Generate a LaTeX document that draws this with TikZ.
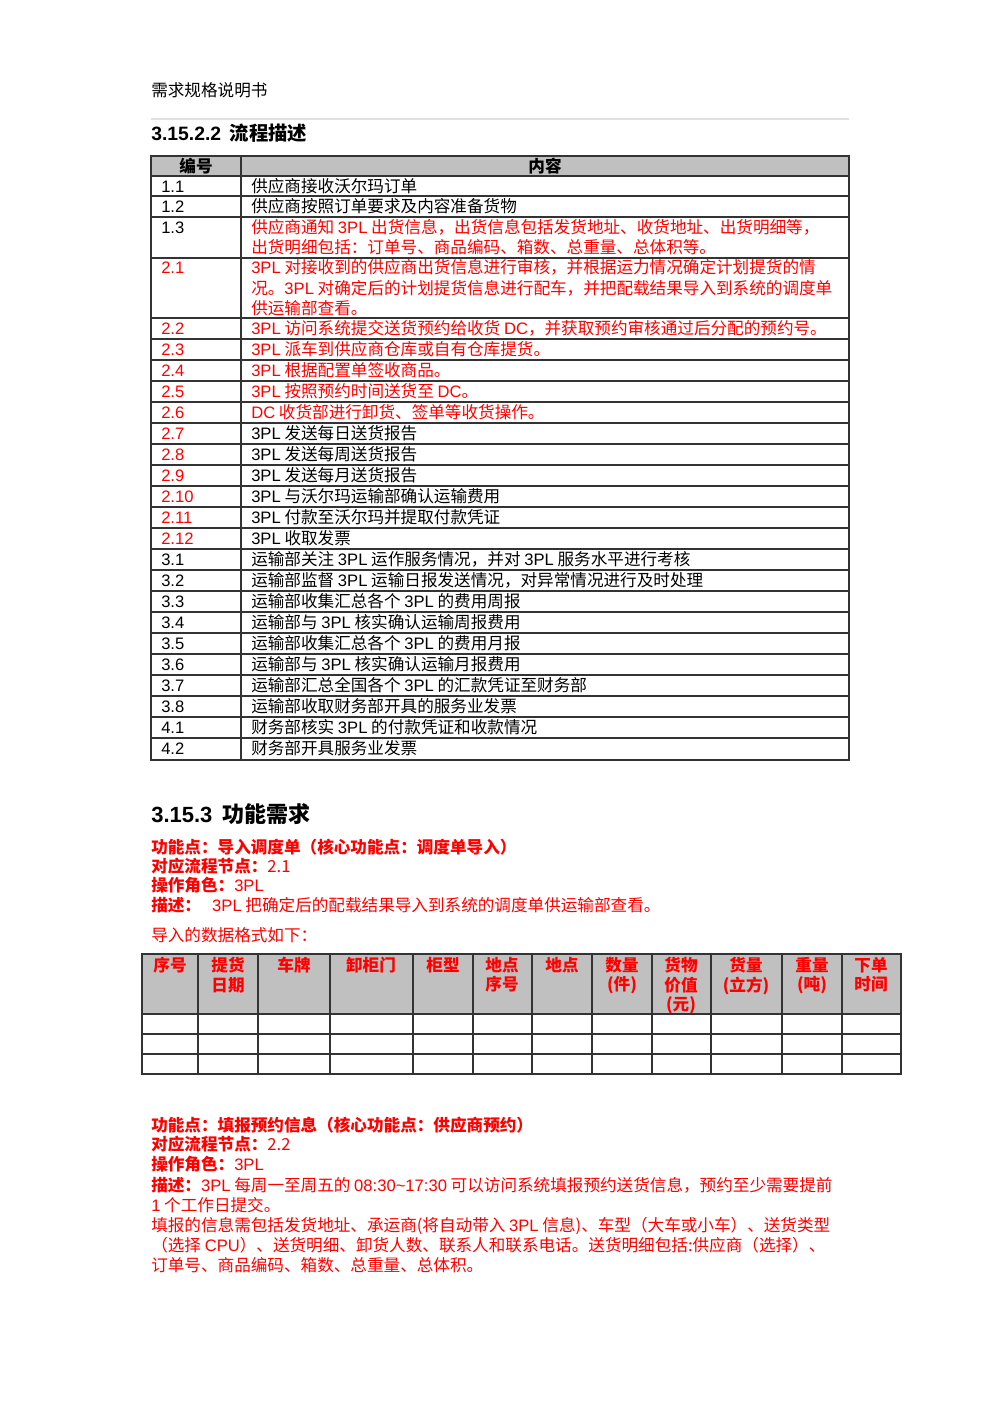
\documentclass[tikz,border=0pt]{standalone}
\usepackage{fontspec}
\setmainfont{Noto Sans CJK SC}
\newfontfamily\lat{Liberation Sans}
\newcommand{\tpl}{{\lat 3PL}}
\definecolor{hdr}{RGB}{192,192,192}
\definecolor{rd}{RGB}{255,0,0}
\tikzset{txt/.style={anchor=base west,inner sep=0pt,font=\fontsize{12.45pt}{14pt}\selectfont},
 num/.style={txt,font=\lat\fontsize{12.45pt}{14pt}\selectfont},
 grid/.style={line width=0.8pt,black!80}}
\newcommand{\T}[3]{\node[txt] at (#1,#2) {#3};}
\newcommand{\N}[3]{\node[num] at (#1,#2) {#3};}
\begin{document}
\begin{tikzpicture}[x=0.75pt,y=-0.75pt]
\useasboundingbox (0,0) rectangle (1000,1415);
\T{151}{96}{需求规格说明书}
\draw[black!12,line width=0.8pt] (151,119) -- (849,119);
\node[txt,font=\fontsize{14.5pt}{16pt}\selectfont\bfseries] at (151,140) {{\lat\bfseries 3.15.2.2}\ \ 流程描述};
% table 1
\fill[hdr] (151,156) rectangle (849,176);
\draw[grid] (151,156) rectangle (849,760);
\draw[grid] (241,156) -- (241,760);
\foreach \y in {176,196,217,258,318,339,360,381,402,423,444,465,486,507,528,549,570,591,612,633,654,675,696,717,738}
  \draw[grid] (151,\y) -- (849,\y);
\node[font=\fontsize{12.45pt}{14pt}\selectfont\bfseries,anchor=base] at (196,172) {编号};
\node[font=\fontsize{12.45pt}{14pt}\selectfont\bfseries,anchor=base] at (545,172) {内容};
\N{161}{192}{1.1}\T{251}{192}{供应商接收沃尔玛订单}
\N{161}{212}{1.2}\T{251}{212}{供应商按照订单要求及内容准备货物}
\N{161}{233}{1.3}
\begin{scope}[rd]
\T{251}{233}{供应商通知 \tpl{} 出货信息，出货信息包括发货地址、收货地址、出货明细等，}
\T{251}{253}{出货明细包括：订单号、商品编码、箱数、总重量、总体积等。}
\N{161}{273}{2.1}
\T{251}{273}{\tpl{} 对接收到的供应商出货信息进行审核，并根据运力情况确定计划提货的情}
\T{251}{294}{况。\tpl{} 对确定后的计划提货信息进行配车，并把配载结果导入到系统的调度单}
\T{251}{314}{供运输部查看。}
\N{161}{334}{2.2}\T{251}{334}{\tpl{} 访问系统提交送货预约给收货 {\lat DC}，并获取预约审核通过后分配的预约号。}
\N{161}{355}{2.3}\T{251}{355}{\tpl{} 派车到供应商仓库或自有仓库提货。}
\N{161}{376}{2.4}\T{251}{376}{\tpl{} 根据配置单签收商品。}
\N{161}{397}{2.5}\T{251}{397}{\tpl{} 按照预约时间送货至 {\lat DC}。}
\N{161}{418}{2.6}\T{251}{418}{{\lat DC} 收货部进行卸货、签单等收货操作。}
\N{161}{439}{2.7}\N{161}{460}{2.8}\N{161}{481}{2.9}
\N{161}{502}{2.10}\N{161}{523}{2.11}\N{161}{544}{2.12}
\end{scope}
\T{251}{439}{\tpl{} 发送每日送货报告}
\T{251}{460}{\tpl{} 发送每周送货报告}
\T{251}{481}{\tpl{} 发送每月送货报告}
\T{251}{502}{\tpl{} 与沃尔玛运输部确认运输费用}
\T{251}{523}{\tpl{} 付款至沃尔玛并提取付款凭证}
\T{251}{544}{\tpl{} 收取发票}
\N{161}{565}{3.1}\T{251}{565}{运输部关注 \tpl{} 运作服务情况，并对 \tpl{} 服务水平进行考核}
\N{161}{586}{3.2}\T{251}{586}{运输部监督 \tpl{} 运输日报发送情况，对异常情况进行及时处理}
\N{161}{607}{3.3}\T{251}{607}{运输部收集汇总各个 \tpl{} 的费用周报}
\N{161}{628}{3.4}\T{251}{628}{运输部与 \tpl{} 核实确认运输周报费用}
\N{161}{649}{3.5}\T{251}{649}{运输部收集汇总各个 \tpl{} 的费用月报}
\N{161}{670}{3.6}\T{251}{670}{运输部与 \tpl{} 核实确认运输月报费用}
\N{161}{691}{3.7}\T{251}{691}{运输部汇总全国各个 \tpl{} 的汇款凭证至财务部}
\N{161}{712}{3.8}\T{251}{712}{运输部收取财务部开具的服务业发票}
\N{161}{733}{4.1}\T{251}{733}{财务部核实 \tpl{} 的付款凭证和收款情况}
\N{161}{754}{4.2}\T{251}{754}{财务部开具服务业发票}
% section 3.15.3
\node[txt,font=\fontsize{16.5pt}{18pt}\selectfont\bfseries] at (151,822) {{\lat\bfseries 3.15.3}\ \ 功能需求};
\begin{scope}[rd]
\T{151}{853}{\bfseries 功能点：导入调度单（核心功能点：调度单导入）}
\T{151}{872}{{\bfseries 对应流程节点：}2.1}
\T{151}{891}{{\bfseries 操作角色：}{\lat 3PL}}
\T{151}{911}{{\bfseries 描述：}\ \ \ \tpl{} 把确定后的配载结果导入到系统的调度单供运输部查看。}
\T{151}{941}{导入的数据格式如下：}
\end{scope}
% table 2
\fill[hdr] (142,954) rectangle (901,1014);
\draw[grid] (142,954) rectangle (901,1074);
\foreach \y in {1014,1034,1054} \draw[grid] (142,\y) -- (901,\y);
\foreach \x in {198,258,330,413,473,532,592,652,711,782,842} \draw[grid] (\x,954) -- (\x,1074);
\begin{scope}[rd,every node/.style={anchor=north,inner sep=0pt,align=center,font=\fontsize{12.45pt}{14.6pt}\selectfont\bfseries}]
\node at (170,957) {序号};
\node at (228,957) {提货\\日期};
\node at (294,957) {车牌};
\node at (371,957) {卸柜门};
\node at (443,957) {柜型};
\node at (502,957) {地点\\序号};
\node at (562,957) {地点};
\node at (622,957) {数量\\(件)};
\node at (681,957) {货物\\价值\\(元)};
\node at (746,957) {货量\\(立方)};
\node at (812,957) {重量\\(吨)};
\node at (871,957) {下单\\时间};
\end{scope}
\begin{scope}[rd]
\T{151}{1131}{\bfseries 功能点：填报预约信息（核心功能点：供应商预约）}
\T{151}{1150}{{\bfseries 对应流程节点：}2.2}
\T{151}{1170}{{\bfseries 操作角色：}\tpl}
\T{151}{1191}{{\bfseries 描述：}\tpl{} 每周一至周五的 {\lat 08:30\textasciitilde17:30} 可以访问系统填报预约送货信息，预约至少需要提前}
\T{151}{1211}{{\lat 1} 个工作日提交。}
\T{151}{1231}{填报的信息需包括发货地址、承运商(将自动带入 \tpl{} 信息)、车型（大车或小车）、送货类型}
\T{151}{1251}{（选择 {\lat CPU}）、送货明细、卸货人数、联系人和联系电话。送货明细包括:供应商（选择）、}
\T{151}{1271}{订单号、商品编码、箱数、总重量、总体积。}
\end{scope}
\end{tikzpicture}
\end{document}
